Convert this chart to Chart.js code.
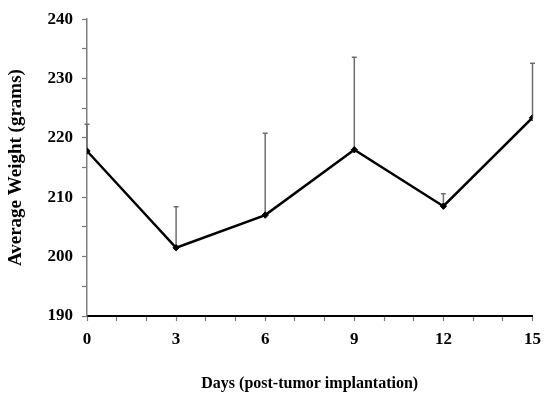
<!DOCTYPE html>
<html>
<head>
<meta charset="utf-8">
<script src="https://cdn.jsdelivr.net/npm/chart.js@4/dist/chart.umd.min.js"></script>
<style>
  html, body { margin: 0; padding: 0; background: #fff; }
  #wrap { width: 549px; height: 395px; position: relative; }
</style>
</head>
<body>
<div id="wrap"><canvas id="c"></canvas></div>
<script>
// Days after tumor implantation and mean body weight (g) with upper SD
const days = [0, 3, 6, 9, 12, 15];
const weights = [217.8, 201.5, 207.0, 218.0, 208.5, 223.4];
const sd = [4.5, 6.9, 13.8, 15.6, 2.1, 9.2];
const yTickValues = [190, 200, 210, 220, 230, 240];
const xTickValues = [0, 3, 6, 9, 12, 15];

const serif = "'Liberation Serif', 'Times New Roman', serif";

// Upward-only error bars with a short cap
const errorBars = {
  id: 'errorBars',
  beforeDatasetsDraw(chart) {
    const ctx = chart.ctx;
    const xs = chart.scales.x, ys = chart.scales.y;
    ctx.save();
    ctx.strokeStyle = '#6e6e6e';
    ctx.lineWidth = 1.5;
    days.forEach((d, i) => {
      const x = xs.getPixelForValue(d);
      const y0 = ys.getPixelForValue(weights[i]);
      const y1 = ys.getPixelForValue(weights[i] + sd[i]);
      ctx.beginPath();
      ctx.moveTo(x, y0);
      ctx.lineTo(x, y1);
      ctx.moveTo(x - 2.5, y1);
      ctx.lineTo(x + 2.5, y1);
      ctx.stroke();
    });
    ctx.restore();
  }
};

new Chart(document.getElementById('c'), {
  type: 'line',
  data: {
    datasets: [{
      data: days.map((d, i) => ({ x: d, y: weights[i] })),
      borderColor: '#000',
      backgroundColor: '#000',
      borderWidth: 2.5,
      pointStyle: 'rectRot',
      pointRadius: 3.2,
      pointHoverRadius: 3.2,
      pointBorderWidth: 1,
      tension: 0,
      fill: false
    }]
  },
  options: {
    responsive: true,
    maintainAspectRatio: false,
    animation: false,
    events: [],
    layout: { padding: { top: 15, right: 10, left: 0, bottom: 0 } },
    plugins: { legend: { display: false }, tooltip: { enabled: false } },
    scales: {
      x: {
        type: 'linear',
        min: 0, max: 15,
        afterFit(s) { s.height = 79; },
        border: { color: '#000', width: 2 },
        grid: { drawOnChartArea: false, drawTicks: true, tickLength: 5, tickColor: '#777', tickWidth: 1.2 },
        ticks: {
          stepSize: 1,
          autoSkip: false,
          maxRotation: 0,
          padding: 8,
          color: '#000',
          font: { family: serif, size: 17, weight: 'bold' },
          callback: v => xTickValues.includes(v) ? String(v) : ''
        },
        title: {
          display: true,
          text: 'Days (post-tumor implantation)',
          color: '#000',
          font: { family: serif, size: 16, weight: 'bold' },
          padding: { top: 0, bottom: 2 }
        }
      },
      y: {
        min: 190, max: 240,
        afterFit(s) { s.width = 87; },
        border: { color: '#808080', width: 1.5 },
        grid: { drawOnChartArea: false, drawTicks: true, tickLength: 5, tickColor: '#777', tickWidth: 1.2 },
        ticks: {
          stepSize: 5,
          autoSkip: false,
          padding: 9,
          color: '#000',
          font: { family: serif, size: 17, weight: 'bold' },
          callback: v => yTickValues.includes(v) ? String(v) : ''
        },
        title: {
          display: true,
          text: 'Average Weight (grams)',
          color: '#000',
          font: { family: serif, size: 19, weight: 'bold' },
          padding: { top: 5, bottom: 0 }
        }
      }
    }
  },
  plugins: [errorBars]
});
</script>
</body>
</html>
